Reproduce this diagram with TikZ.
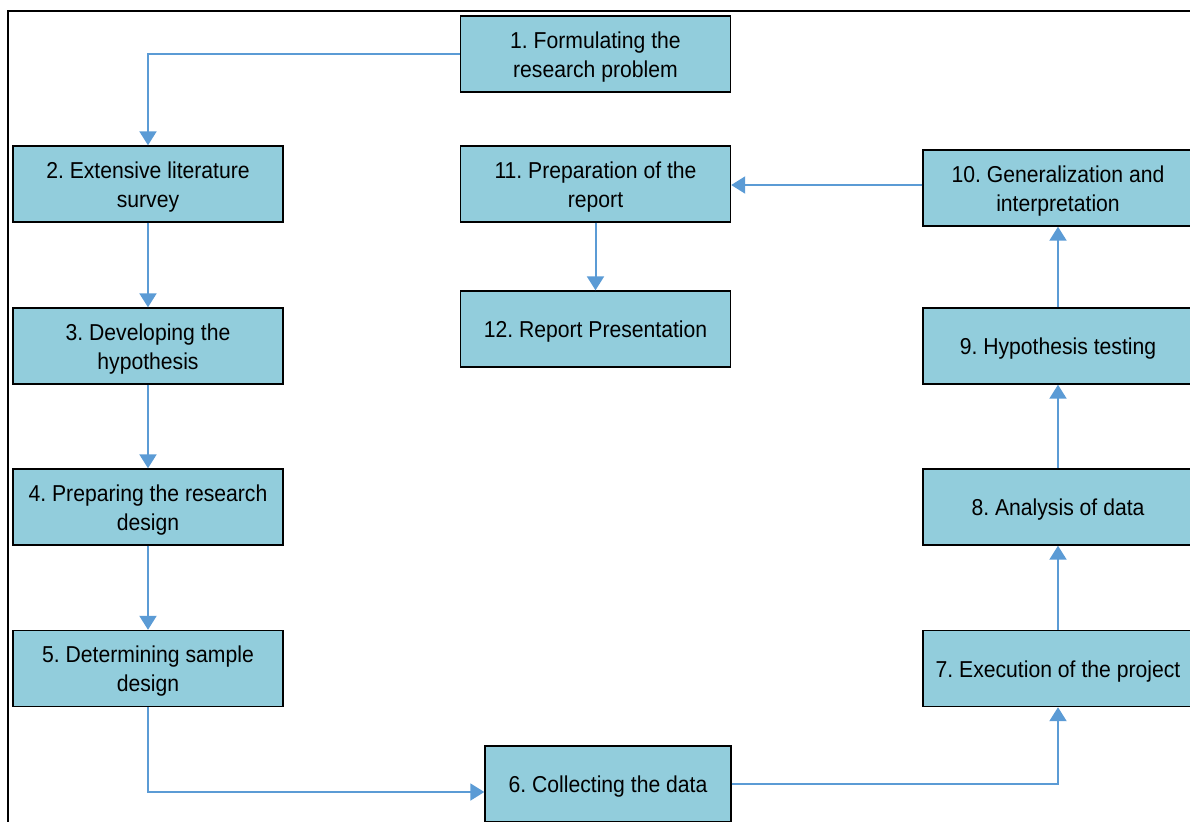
\documentclass[tikz,border=0pt]{standalone}
\usepackage{fontspec}
\setmainfont{Liberation Sans}[FakeStretch=0.92]
\frenchspacing
\usetikzlibrary{arrows.meta}
\definecolor{boxfill}{HTML}{92CDDC}
\definecolor{arrowblue}{HTML}{5B9BD5}
\tikzset{
  stepbox/.style={draw=black, line width=0.7pt, fill=boxfill, minimum width=135pt, minimum height=38pt,
    inner sep=0pt, align=center, font=\fontsize{11.5pt}{14.5pt}\selectfont},
  lbl/.style={inner sep=0pt, align=center, yshift=-1.5pt, font=\fontsize{11.5pt}{14.5pt}\selectfont},
  flow/.style={draw=arrowblue, line width=1pt, -{Triangle[length=7pt,width=8.5pt]}}
}
\begin{document}
\begin{tikzpicture}[x=0.5pt,y=-0.5pt]
\useasboundingbox (0,0) rectangle (1190,821);
\clip (0,0) rectangle (1190,821);
\draw[line width=0.8pt] (8,11) rectangle (1250,900);
\node[stepbox, label={[lbl]center:{1. Formulating the\\research problem}}] (n1) at (595.5,54) {};
\node[stepbox, label={[lbl]center:{2. Extensive literature\\survey}}] (n2) at (148,184) {};
\node[stepbox, label={[lbl]center:{3. Developing the\\hypothesis}}] (n3) at (148,346) {};
\node[stepbox, label={[lbl]center:{4. Preparing the research\\design}}] (n4) at (148,507) {};
\node[stepbox, label={[lbl]center:{5. Determining sample\\design}}] (n5) at (148,668.5) {};
\node[stepbox, minimum width=123pt, label={[lbl]center:{6. Collecting the data}}] (n6) at (608,784) {};
\node[stepbox, label={[lbl]center:{7. Execution of the project}}] (n7) at (1058,668.5) {};
\node[stepbox, label={[lbl]center:{8. Analysis of data}}] (n8) at (1058,507) {};
\node[stepbox, label={[lbl]center:{9. Hypothesis testing}}] (n9) at (1058,346) {};
\node[stepbox, label={[lbl]center:{10. Generalization and\\interpretation}}] (n10) at (1058,188) {};
\node[stepbox, label={[lbl]center:{11. Preparation of the\\report}}] (n11) at (595.5,184) {};
\node[stepbox, label={[lbl]center:{12. Report Presentation}}] (n12) at (595.5,329) {};
\draw[flow] (n1.west) -| (n2.north);
\draw[flow] (n2) -- (n3);
\draw[flow] (n3) -- (n4);
\draw[flow] (n4) -- (n5);
\draw[flow] (n5.south) |- (n6.west |- 0,792);
\draw[flow] (n6.east) -| (n7.south);
\draw[flow] (n7) -- (n8);
\draw[flow] (n8) -- (n9);
\draw[flow] (n9) -- (n10);
\draw[flow] (n10.west |- 0,185) -- (n11.east |- 0,185);
\draw[flow] (n11) -- (n12);
\end{tikzpicture}
\end{document}
